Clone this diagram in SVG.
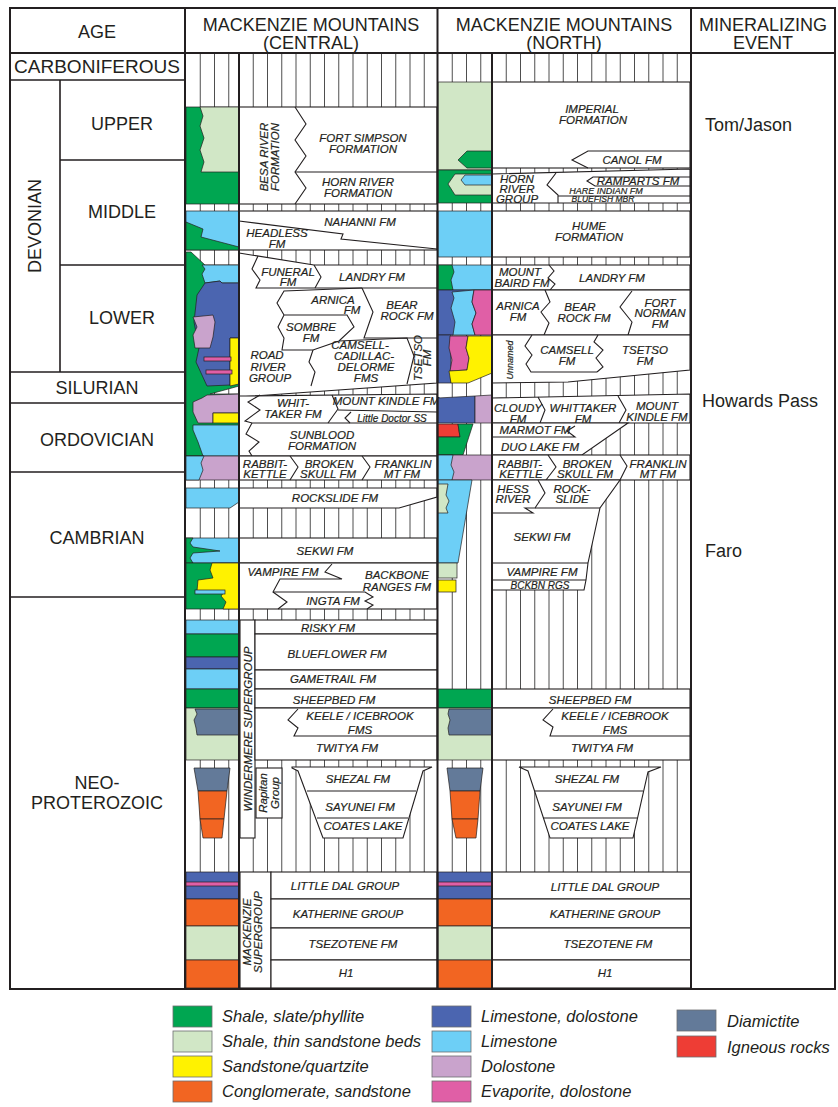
<svg xmlns="http://www.w3.org/2000/svg" width="838" height="1107" viewBox="0 0 838 1107">
<style>
.o{fill:#fff;stroke:#231f20;stroke-width:1.1}
.l{fill:none;stroke:#231f20;stroke-width:1.1}
.p{stroke:#231f20;stroke-width:0.7}
.sh{fill:#00a651}.ss{fill:#d1e7c6}.sq{fill:#fff200}.cg{fill:#f26522}.ld{fill:#4b65b0}.ls{fill:#6dcff6}.do{fill:#c9a3cc}.ev{fill:#e05fa6}.di{fill:#637a99}.ig{fill:#ee3d35}
text{font-family:"Liberation Sans",Arial,Helvetica,sans-serif;fill:#231f20}
.t{font-style:italic;font-size:11.5px;text-anchor:middle;stroke:#231f20;stroke-width:0.2}
.sm{font-size:9px}
.hd{font-size:18px;text-anchor:middle}
.mn{font-size:18px}
.lg{font-style:italic;font-size:16.5px}
.hatch{stroke:#3a3a3a;stroke-width:0.9;fill:none}
.fr{fill:none;stroke:#231f20;stroke-width:2}
.lgb{stroke:#6d6e71;stroke-width:0.8}
</style>
<rect width="838" height="1107" fill="#fff"/>
<g id="hatch">
<path class="hatch" d="M200.25 53V988M214.5 53V988M228.75 53V988M253.25 53V988M267.5 53V988M281.75 53V988M296 53V988M310.25 53V988M324.5 53V988M338.75 53V988M353 53V988M367.25 53V988M381.5 53V988M395.75 53V988M410 53V988M424.25 53V988M452.25 53V988M466.5 53V988M480.75 53V988M506.25 53V988M520.5 53V988M534.75 53V988M549 53V988M563.25 53V988M577.5 53V988M591.75 53V988M606 53V988M620.25 53V988M634.5 53V988M648.75 53V988M663 53V988M677.25 53V988"/>
</g>

<!-- CENTRAL COLUMN -->
<g id="c-upper-devonian">
<rect class="sh p" x="186" y="107" width="53" height="97"/>
<polygon class="ss p" points="200,107 239,107 239,172 201,172 204,162 200,150 204,138 200,126 203,116"/>
<rect class="o" x="239" y="107" width="198" height="97"/>
<polyline class="l" points="295,107 306,124 295,140 306,156 295,172 306,188 295,204"/>
<line class="l" x1="295" y1="172" x2="437" y2="172"/>
<text class="t" transform="translate(270,157) rotate(-90)"><tspan x="0" y="-2">BESA RIVER</tspan><tspan x="0" y="9">FORMATION</tspan></text>
<text class="t" x="363" y="142">FORT SIMPSON</text>
<text class="t" x="363" y="153">FORMATION</text>
<text class="t" x="358" y="186">HORN RIVER</text>
<text class="t" x="358" y="197">FORMATION</text>
</g>
<g id="c-middle-devonian">
<rect class="ls p" x="186" y="211" width="53" height="39"/>
<polygon class="sh p" points="186,222 203,229 201,237 239,247 239,250 186,250"/>
<rect class="o" x="239" y="211" width="198" height="39"/>
<polyline class="l" points="239,221 343,234 341,239 437,249"/>
<text class="t" x="360" y="226">NAHANNI FM</text>
<text class="t" x="277" y="237">HEADLESS</text>
<text class="t" x="277" y="248">FM</text>
</g>
<g id="c-lower-devonian">
<polygon class="sh p" points="186,252 191,252 205,265 239,265 239,386 210,394 239,394 239,456 186,456"/>
<polygon class="ls p" points="202,265 239,265 239,283 222,283 220,281 205,283 202,274 205,269"/>
<polygon class="ld p" points="205,283 220,281 222,283 239,283 239,338 230,338 230,385 207,386 196,362 199,348 194,322 197,295"/>
<polygon class="do p" points="193,317 213,315 215,322 213,337 210,348 195,348 193,335 197,327"/>
<polygon class="sq p" points="230,338 239,338 239,384 230,386"/>
<rect class="ev p" x="204" y="357" width="27" height="4"/>
<rect class="ev p" x="206" y="370" width="26" height="4"/>
<polygon class="o" points="239,253 314,265 437,265 437,383 239,397"/>
<polyline class="l" points="258,256 252,269 260,280 256,288 437,288"/>
<polyline class="l" points="314,265 321,277 315,288"/>
<polyline class="l" points="362,288 284,291 277,303 284,315 347,315 354,327 339,341 313,350 282,350 284,338 278,327 284,315"/>
<polyline class="l" points="362,288 373,312 364,338 437,338"/>
<polyline class="l" points="339,341 407,338 414,356 407,384"/>
<polyline class="l" points="313,350 309,362 315,372 311,386"/>
<text class="t" x="288" y="276">FUNERAL</text>
<text class="t" x="288" y="286">FM</text>
<text class="t" x="372" y="281">LANDRY FM</text>
<text class="t" x="333" y="304">ARNICA</text>
<text class="t" x="352" y="314">FM</text>
<text class="t" x="402" y="309">BEAR</text>
<text class="t" x="407" y="320">ROCK FM</text>
<text class="t" x="311" y="331">SOMBRE</text>
<text class="t" x="311" y="342">FM</text>
<text class="t" x="267" y="359">ROAD</text>
<text class="t" x="268" y="371">RIVER</text>
<text class="t" x="270" y="382">GROUP</text>
<text class="t" x="360" y="349">CAMSELL-</text>
<text class="t" x="364" y="360">CADILLAC-</text>
<text class="t" x="366" y="371">DELORME</text>
<text class="t" x="366" y="382">FMS</text>
<text class="t" transform="translate(422,358) rotate(-90)"><tspan x="0" y="0">TSETSO</tspan><tspan x="0" y="9">FM</tspan></text>
</g>
<g id="c-silurian-ordovician">
<polygon class="do p" points="193,402 202,398 207,395 239,394 239,413 213,413 213,423 198,423 193,412"/>
<rect class="sq p" x="213" y="413" width="26" height="10"/>
<polygon class="ls p" points="193,425 239,425 239,456 203,456 198,442 193,430"/>
<polygon class="o" points="239,396 437,394 437,456 239,456"/>
<polyline class="l" points="260,395 248,402 260,410 245,421 252,423 437,423"/>
<polyline class="l" points="252,423 246,434 259,442 249,451 252,456"/>
<polyline class="l" points="332,395 338,409 328,423"/>
<polyline class="l" points="338,410 437,412"/>
<polyline class="l" points="351,412 345,418 350,423"/>
<text class="t" x="293" y="407">WHIT-</text>
<text class="t" x="293" y="418">TAKER FM</text>
<text class="t" x="386" y="405">MOUNT KINDLE FM</text>
<text class="t" x="392" y="422" style="font-size:10px">Little Doctor SS</text>
<text class="t" x="322" y="439">SUNBLOOD</text>
<text class="t" x="322" y="450">FORMATION</text>
</g>
<g id="c-rabbitkettle">
<rect class="do p" x="186" y="456" width="53" height="24"/>
<polygon class="ls p" points="186,456 204,456 201,463 203,470 199,480 186,480"/>
<rect class="o" x="239" y="456" width="198" height="24"/>
<polyline class="l" points="290,456 298,467 290,480"/>
<polyline class="l" points="362,456 370,467 362,480"/>
<text class="t" x="265" y="468">RABBIT-</text>
<text class="t" x="265" y="478">KETTLE</text>
<text class="t" x="329" y="468">BROKEN</text>
<text class="t" x="328" y="478">SKULL FM</text>
<text class="t" x="403" y="468">FRANKLIN</text>
<text class="t" x="402" y="478">MT FM</text>
</g>
<g id="c-rockslide">
<polygon class="ls p" points="186,488 239,488 239,502 230,508 186,508"/>
<polygon class="o" points="239,488 437,488 437,497 399,508 239,508"/>
<text class="t" x="335" y="502">ROCKSLIDE FM</text>
</g>
<g id="c-sekwi">
<rect class="ls p" x="186" y="538" width="53" height="25"/>
<polygon class="sh p" points="186,538 193,538 190,543 193,547 220,551 193,553 190,558 193,563 186,563"/>
<rect class="o" x="239" y="538" width="198" height="25"/>
<text class="t" x="325" y="555">SEKWI FM</text>
</g>
<g id="c-vampire">
<rect class="sh p" x="186" y="563" width="53" height="46"/>
<polygon class="sq p" points="212,563 239,563 239,609 223,609 226,602 221,596 225,591 197,591 198,580 213,578 210,570"/>
<rect class="ls p" x="195" y="590" width="30" height="4"/>
<rect class="o" x="239" y="563" width="198" height="46"/>
<polyline class="l" points="332,564 325,572 342,579 280,579 273,592 287,602 278,609"/>
<polyline class="l" points="273,592 365,592 373,597 365,601 373,605 367,609"/>
<text class="t" x="283" y="576">VAMPIRE FM</text>
<text class="t" x="397" y="579">BACKBONE</text>
<text class="t" x="397" y="591">RANGES FM</text>
<text class="t" x="333" y="605">INGTA FM</text>
</g>
<g id="c-windermere">
<rect class="ls p" x="186" y="620" width="53" height="14"/>
<rect class="sh p" x="186" y="634" width="53" height="23"/>
<rect class="ld p" x="186" y="657" width="53" height="12"/>
<rect class="ls p" x="186" y="669" width="53" height="20"/>
<rect class="sh p" x="186" y="689" width="53" height="19"/>
<rect class="ss p" x="186" y="708" width="53" height="52"/>
<polygon class="di p" points="195,709 239,709 239,735 197,735 196,728 194,720 197,714"/>
<rect class="o" x="240" y="620" width="15" height="218"/>
<text class="t" transform="translate(248,729) rotate(-90)" x="0" y="4">WINDERMERE SUPERGROUP</text>
<rect class="o" x="255" y="620" width="182" height="14"/>
<rect class="o" x="255" y="634" width="182" height="36"/>
<rect class="o" x="255" y="670" width="182" height="19"/>
<rect class="o" x="255" y="689" width="182" height="19"/>
<rect class="o" x="255" y="708" width="182" height="52"/>
<polyline class="l" points="298,709 288,720 298,728 294,736 437,736"/>
<text class="t" x="328" y="632">RISKY FM</text>
<text class="t" x="337" y="658">BLUEFLOWER FM</text>
<text class="t" x="333" y="683">GAMETRAIL FM</text>
<text class="t" x="334" y="704">SHEEPBED FM</text>
<text class="t" x="360" y="720">KEELE / ICEBROOK</text>
<text class="t" x="360" y="734">FMS</text>
<text class="t" x="347" y="752">TWITYA FM</text>
<rect class="o" x="256" y="768" width="26" height="50"/>
<text class="t" transform="translate(269,793) rotate(-90)"><tspan x="0" y="-2">Rapitan</tspan><tspan x="0" y="10">Group</tspan></text>
<polygon class="di p" points="194,768 230,768 227,791 198,791"/>
<polygon class="cg p" points="198,791 227,791 224,819 200,819"/>
<polygon class="cg p" points="200,819 224,819 222,838 203,838"/>
<polygon class="o" points="292,768 298,771 323,838 403,838 423,771 432,767 292,767"/>
<line class="l" x1="307" y1="791" x2="416" y2="791"/>
<line class="l" x1="317" y1="818" x2="408" y2="818"/>
<text class="t" x="358" y="783">SHEZAL FM</text>
<text class="t" x="360" y="811">SAYUNEI FM</text>
<text class="t" x="363" y="830">COATES LAKE</text>
</g>
<g id="c-mackenzie">
<rect class="ld p" x="186" y="872" width="53" height="27"/>
<rect class="ev p" x="186" y="882" width="53" height="4"/>
<rect class="cg p" x="186" y="899" width="53" height="27"/>
<rect class="ss p" x="186" y="926" width="53" height="34"/>
<rect class="cg p" x="186" y="960" width="53" height="28"/>
<rect class="o" x="240" y="872" width="31" height="116"/>
<text class="t" transform="translate(252,932) rotate(-90)"><tspan x="0" y="-1">MACKENZIE</tspan><tspan x="0" y="10">SUPERGROUP</tspan></text>
<rect class="o" x="271" y="872" width="166" height="27"/>
<rect class="o" x="271" y="899" width="166" height="29"/>
<rect class="o" x="271" y="928" width="166" height="32"/>
<rect class="o" x="271" y="960" width="166" height="28"/>
<text class="t" x="345" y="890">LITTLE DAL GROUP</text>
<text class="t" x="348" y="918">KATHERINE GROUP</text>
<text class="t" x="353" y="948">TSEZOTENE FM</text>
<text class="t" x="346" y="977">H1</text>
</g>

<!-- NORTH COLUMN -->
<g id="n-upper-devonian">
<rect class="ss p" x="438" y="82" width="54" height="88"/>
<polygon class="sh p" points="467,151 492,151 492,168 467,168 458,160"/>
<rect class="o" x="492" y="82" width="198" height="86"/>
<polyline class="l" points="690,151 588,151 572,160 588,168"/>
<text class="t" x="592" y="113">IMPERIAL</text>
<text class="t" x="593" y="124">FORMATION</text>
<text class="t" x="632" y="164">CANOL FM</text>
</g>
<g id="n-horn-river">
<rect class="sh p" x="438" y="170" width="54" height="33"/>
<polygon class="ss p" points="455,174 492,174 492,195 455,195 448,184"/>
<polygon class="ls p" points="465,175 492,175 492,185 465,185 461,180"/>
<polygon class="o" points="492,174 690,169 690,203 492,203"/>
<polyline class="l" points="556,173 547,185 558,195 558,203"/>
<polyline class="l" points="690,177 593,177 587,181 595,186 690,186"/>
<line class="l" x1="558" y1="196" x2="690" y2="196"/>
<text class="t" x="517" y="183">HORN</text>
<text class="t" x="517" y="193">RIVER</text>
<text class="t" x="517" y="203">GROUP</text>
<text class="t" x="638" y="185">RAMPARTS FM</text>
<text class="t sm" x="606" y="194">HARE INDIAN FM</text>
<text class="t sm" x="603" y="202" style="font-size:8.5px">BLUEFISH MBR</text>
</g>
<g id="n-hume">
<rect class="ls p" x="438" y="211" width="54" height="46"/>
<rect class="o" x="492" y="211" width="198" height="46"/>
<text class="t" x="589" y="230">HUME</text>
<text class="t" x="589" y="241">FORMATION</text>
</g>
<g id="n-landry">
<rect class="ls p" x="438" y="265" width="54" height="25"/>
<polygon class="sh p" points="438,265 452,265 454,272 451,280 453,290 438,290"/>
<rect class="o" x="492" y="265" width="198" height="25"/>
<polyline class="l" points="549,265 554,271 548,278 555,284 550,290"/>
<text class="t" x="520" y="276">MOUNT</text>
<text class="t" x="522" y="287">BAIRD FM</text>
<text class="t" x="612" y="282">LANDRY FM</text>
</g>
<g id="n-arnica">
<rect class="ld p" x="438" y="290" width="54" height="45"/>
<polygon class="ls p" points="452,292 474,290 472,302 476,313 472,324 475,335 453,335 455,322 451,308 454,298"/>
<polygon class="ev p" points="474,290 492,290 492,335 475,335 472,324 476,313 472,302"/>
<rect class="o" x="492" y="290" width="198" height="45"/>
<polyline class="l" points="545,290 550,302 541,312 549,323 544,335"/>
<polyline class="l" points="632,291 620,307 632,322 628,335"/>
<text class="t" x="518" y="310">ARNICA</text>
<text class="t" x="518" y="321">FM</text>
<text class="t" x="580" y="311">BEAR</text>
<text class="t" x="584" y="322">ROCK FM</text>
<text class="t" x="660" y="307">FORT</text>
<text class="t" x="660" y="317">NORMAN</text>
<text class="t" x="660" y="328">FM</text>
</g>
<g id="n-camsell">
<rect class="ld p" x="438" y="335" width="13" height="48"/>
<polygon class="ev p" points="450,336 468,336 466,348 469,358 467,370 450,371 452,360 449,348"/>
<polygon class="sq p" points="468,336 492,336 492,373 468,383 451,383 449,371 467,370 469,358 466,348"/>
<polygon class="o" points="492,335 690,335 690,370 568,382 492,383"/>
<polyline class="l" points="532,335 525,346 532,355 526,364 531,372 597,372"/>
<polyline class="l" points="598,335 594,342 603,350 596,358 603,367 597,372"/>
<text class="t sm" transform="translate(510,360) rotate(-90)" x="0" y="3">Unnamed</text>
<text class="t" x="567" y="354">CAMSELL</text>
<text class="t" x="567" y="365">FM</text>
<text class="t" x="645" y="354">TSETSO</text>
<text class="t" x="645" y="365">FM</text>
</g>
<g id="n-cloudy">
<polygon class="ld p" points="438,398 475,396 475,423 438,423"/>
<polygon class="do p" points="475,396 492,395 492,423 475,423"/>
<polygon class="o" points="492,398 690,394 690,423 492,423"/>
<polyline class="l" points="538,397 545,410 540,423"/>
<polyline class="l" points="618,396 626,410 619,423"/>
<text class="t" x="518" y="412">CLOUDY</text>
<text class="t" x="518" y="423">FM</text>
<text class="t" x="583" y="412">WHITTAKER</text>
<text class="t" x="583" y="423">FM</text>
<text class="t" x="657" y="410">MOUNT</text>
<text class="t" x="657" y="421">KINDLE FM</text>
</g>
<g id="n-marmot">
<polygon class="ig p" points="438,424 458,424 460,437 438,437"/>
<polygon class="sh p" points="458,424 473,424 463,455 438,455 438,437 460,437"/>
<polygon class="o" points="492,423 628,423 582,455 492,455"/>
<polyline class="l" points="575,426 567,431 575,437 492,437"/>
<text class="t" x="535" y="434">MARMOT FM</text>
<text class="t" x="540" y="451">DUO LAKE FM</text>
</g>
<g id="n-rabbitkettle">
<rect class="do p" x="438" y="455" width="54" height="25"/>
<polygon class="ls p" points="438,455 453,455 451,465 454,472 452,480 438,480"/>
<rect class="o" x="492" y="455" width="198" height="25"/>
<polyline class="l" points="548,455 556,467 546,480"/>
<polyline class="l" points="620,455 627,466 620,480"/>
<text class="t" x="520" y="468">RABBIT-</text>
<text class="t" x="521" y="478">KETTLE</text>
<text class="t" x="587" y="468">BROKEN</text>
<text class="t" x="585" y="478">SKULL FM</text>
<text class="t" x="658" y="468">FRANKLIN</text>
<text class="t" x="658" y="478">MT FM</text>
</g>
<g id="n-cambrian">
<polygon class="ls p" points="438,480 472,480 458,563 438,563"/>
<polygon class="ss p" points="438,484 448,484 446,495 449,501 446,508 448,513 438,513"/>
<rect class="ss p" x="438" y="563" width="19" height="15"/>
<rect class="sq p" x="438" y="580" width="18" height="12"/>
<polygon class="o" points="492,480 620,480 600,508 588,563 586,580 584,590 492,590"/>
<polyline class="l" points="538,480 545,493 535,508 525,508 533,513 492,513"/>
<line class="l" x1="535" y1="508" x2="600" y2="508"/>
<line class="l" x1="492" y1="563" x2="588" y2="563"/>
<line class="l" x1="492" y1="580" x2="586" y2="580"/>
<text class="t" x="513" y="493">HESS</text>
<text class="t" x="513" y="503">RIVER</text>
<text class="t" x="572" y="493">ROCK-</text>
<text class="t" x="572" y="503">SLIDE</text>
<text class="t" x="542" y="541">SEKWI FM</text>
<text class="t" x="542" y="576">VAMPIRE FM</text>
<text class="t" x="540" y="589" style="font-size:10px">BCKBN RGS</text>
</g>
<g id="n-windermere">
<rect class="sh p" x="438" y="689" width="54" height="19"/>
<rect class="ss p" x="438" y="708" width="54" height="52"/>
<polygon class="di p" points="449,709 492,709 492,735 449,735 448,728 450,720 448,714"/>
<rect class="o" x="492" y="689" width="198" height="19"/>
<rect class="o" x="492" y="708" width="198" height="52"/>
<polyline class="l" points="553,709 543,720 553,727 550,736 690,736"/>
<text class="t" x="590" y="704">SHEEPBED FM</text>
<text class="t" x="615" y="720">KEELE / ICEBROOK</text>
<text class="t" x="615" y="734">FMS</text>
<text class="t" x="602" y="752">TWITYA FM</text>
<polygon class="di p" points="447,768 483,768 480,791 450,791"/>
<polygon class="cg p" points="450,791 480,791 478,819 452,819"/>
<polygon class="cg p" points="452,819 478,819 476,838 456,838"/>
<polygon class="o" points="519,767 528,771 550,838 633,838 648,772 661,767"/>
<line class="l" x1="535" y1="791" x2="643" y2="791"/>
<line class="l" x1="543" y1="818" x2="637" y2="818"/>
<text class="t" x="587" y="783">SHEZAL FM</text>
<text class="t" x="587" y="811">SAYUNEI FM</text>
<text class="t" x="590" y="830">COATES LAKE</text>
</g>
<g id="n-mackenzie">
<rect class="ld p" x="438" y="872" width="54" height="27"/>
<rect class="ev p" x="438" y="882" width="54" height="4"/>
<rect class="cg p" x="438" y="899" width="54" height="27"/>
<rect class="ss p" x="438" y="926" width="54" height="34"/>
<rect class="cg p" x="438" y="960" width="54" height="28"/>
<rect class="o" x="492" y="872" width="199" height="27"/>
<rect class="o" x="492" y="899" width="199" height="29"/>
<rect class="o" x="492" y="928" width="199" height="32"/>
<rect class="o" x="492" y="960" width="199" height="28"/>
<text class="t" x="605" y="891">LITTLE DAL GROUP</text>
<text class="t" x="605" y="918">KATHERINE GROUP</text>
<text class="t" x="608" y="948">TSEZOTENE FM</text>
<text class="t" x="605" y="977">H1</text>
</g>

<!-- FRAME AND AGE COLUMN -->
<g id="frame">
<rect class="fr" x="10" y="8" width="825" height="981"/>
<path class="fr" d="M10 53H835M185 8V989M437.5 8V989M691 8V989M239 53V988M492 53V988"/>
<path class="l" style="stroke-width:1.6" d="M10 80H185M60 80V372M60 160H185M60 265H185M10 372H185M10 403H185M10 472H185M10 597H185"/>
</g>
<g id="headers">
<text class="hd" x="97" y="38">AGE</text>
<text class="hd" x="311" y="31">MACKENZIE MOUNTAINS</text>
<text class="hd" x="311" y="49">(CENTRAL)</text>
<text class="hd" x="564" y="31">MACKENZIE MOUNTAINS</text>
<text class="hd" x="564" y="49">(NORTH)</text>
<text class="hd" x="763" y="31">MINERALIZING</text>
<text class="hd" x="763" y="49">EVENT</text>
</g>
<g id="ages">
<text class="hd" x="97" y="73" textLength="166" lengthAdjust="spacingAndGlyphs">CARBONIFEROUS</text>
<text class="hd" transform="translate(35,226) rotate(-90)" x="0" y="6">DEVONIAN</text>
<text class="hd" x="122" y="130">UPPER</text>
<text class="hd" x="122" y="218">MIDDLE</text>
<text class="hd" x="122" y="324">LOWER</text>
<text class="hd" x="97" y="394">SILURIAN</text>
<text class="hd" x="97" y="446">ORDOVICIAN</text>
<text class="hd" x="97" y="544">CAMBRIAN</text>
<text class="hd" x="97" y="789">NEO-</text>
<text class="hd" x="97" y="809">PROTEROZOIC</text>
</g>
<g id="events">
<text class="mn" x="705" y="131">Tom/Jason</text>
<text class="mn" x="702" y="407">Howards Pass</text>
<text class="mn" x="705" y="557">Faro</text>
</g>
<g id="legend">
<rect class="sh lgb" x="173" y="1006" width="39" height="21"/>
<rect class="ss lgb" x="173" y="1031" width="39" height="21"/>
<rect class="sq lgb" x="173" y="1056" width="39" height="21"/>
<rect class="cg lgb" x="173" y="1081" width="39" height="21"/>
<text class="lg" x="222" y="1022">Shale, slate/phyllite</text>
<text class="lg" x="222" y="1047">Shale, thin sandstone beds</text>
<text class="lg" x="222" y="1072">Sandstone/quartzite</text>
<text class="lg" x="222" y="1097">Conglomerate, sandstone</text>
<rect class="ld lgb" x="432" y="1006" width="39" height="21"/>
<rect class="ls lgb" x="432" y="1031" width="39" height="21"/>
<rect class="do lgb" x="432" y="1056" width="39" height="21"/>
<rect class="ev lgb" x="432" y="1081" width="39" height="21"/>
<text class="lg" x="481" y="1022">Limestone, dolostone</text>
<text class="lg" x="481" y="1047">Limestone</text>
<text class="lg" x="481" y="1072">Dolostone</text>
<text class="lg" x="481" y="1097">Evaporite, dolostone</text>
<rect class="di lgb" x="677" y="1010" width="39" height="21"/>
<rect class="ig lgb" x="677" y="1036" width="39" height="21"/>
<text class="lg" x="727" y="1027">Diamictite</text>
<text class="lg" x="727" y="1053">Igneous rocks</text>
</g>
</svg>
